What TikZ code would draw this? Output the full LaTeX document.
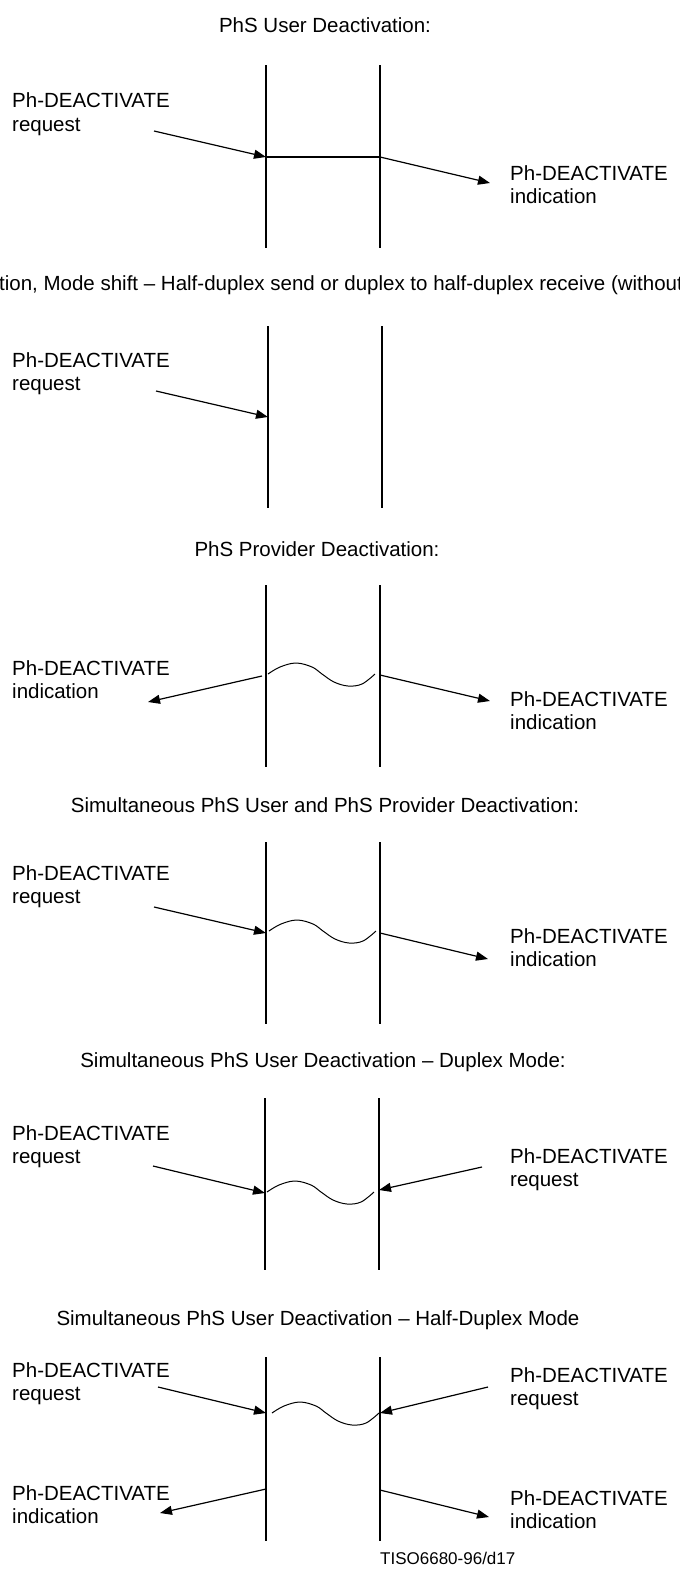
\documentclass[tikz,border=0pt]{standalone}
\usepackage{fontspec}
\newfontfamily\arialf{Liberation Sans}
\newcommand\lbfont{\arialf\fontsize{20.5}{23}\selectfont}
\newcommand\ftfont{\arialf\fontsize{17}{19}\selectfont}
\usetikzlibrary{arrows.meta}
\tikzset{
  lbl/.style={font=\lbfont, inner sep=0pt, anchor=base west},
  ttl/.style={font=\lbfont, inner sep=0pt, anchor=base},
  life/.style={line width=2pt},
  msg/.style={line width=1.2pt, -{Triangle[length=12pt,width=9pt]}},
  wave/.style={line width=1pt},
  wavepic/.pic={\draw[wave] plot[smooth,tension=0.6] coordinates {(0,0) (12,-7) (28,-11) (44,-7) (54,0) (66,8) (80,12) (94,10) (107,0)};}
}
\begin{document}
\begin{tikzpicture}[x=1pt,y=-1pt]
\useasboundingbox (0,0) rectangle (680,1569);
\fill[white] (0,0) rectangle (680,1569);
\clip (0,0) rectangle (680,1569);

% ---------- Section 1 ----------
\node[ttl] (t1) at (325,32) {PhS User Deactivation:};
\coordinate (L1t) at (266,65); \coordinate (L1b) at (266,248);
\coordinate (R1t) at (380,65); \coordinate (R1b) at (380,248);
\coordinate (L1m) at (266,157); \coordinate (R1m) at (380,157);
\coordinate (a1s) at (154,131); \coordinate (a1e) at (490,183);
\draw[life] (L1t) -- (L1b);
\draw[life] (R1t) -- (R1b);
\draw[msg] (a1s) -- (L1m);
\draw[life] (L1m) -- (R1m);
\draw[msg] (R1m) -- (a1e);
\node[lbl] (l1a) at (12,107) {Ph-DEACTIVATE};
\node[lbl] (l1b) at (12,131) {request};
\node[lbl] (r1a) at (510,180) {Ph-DEACTIVATE};
\node[lbl] (r1b) at (510,203) {indication};

% ---------- Section 2 ----------
\node[lbl] (t2) at (-1,290) {tion, Mode shift – Half-duplex send or duplex to half-duplex receive (without};
\coordinate (L2t) at (268,326); \coordinate (L2b) at (268,508);
\coordinate (R2t) at (382,326); \coordinate (R2b) at (382,508);
\coordinate (L2m) at (268,417); \coordinate (a2s) at (156,391);
\draw[life] (L2t) -- (L2b);
\draw[life] (R2t) -- (R2b);
\draw[msg] (a2s) -- (L2m);
\node[lbl] (l2a) at (12,367) {Ph-DEACTIVATE};
\node[lbl] (l2b) at (12,390) {request};

% ---------- Section 3 ----------
\node[ttl] (t3) at (317,556) {PhS Provider Deactivation:};
\coordinate (L3t) at (266,585); \coordinate (L3b) at (266,767);
\coordinate (R3t) at (380,585); \coordinate (R3b) at (380,767);
\coordinate (a3s) at (262,676); \coordinate (a3e) at (148,702);
\coordinate (R3m) at (380,675); \coordinate (b3e) at (490,701);
\draw[life] (L3t) -- (L3b);
\draw[life] (R3t) -- (R3b);
\draw[msg] (a3s) -- (a3e);
\draw[msg] (R3m) -- (b3e);
\pic at (268,674) {wavepic};
\node[lbl] (l3a) at (12,675) {Ph-DEACTIVATE};
\node[lbl] (l3b) at (12,698) {indication};
\node[lbl] (r3a) at (510,706) {Ph-DEACTIVATE};
\node[lbl] (r3b) at (510,729) {indication};

% ---------- Section 4 ----------
\node[ttl] (t4) at (325,812) {Simultaneous PhS User and PhS Provider Deactivation:};
\coordinate (L4t) at (266,842); \coordinate (L4b) at (266,1024);
\coordinate (R4t) at (380,842); \coordinate (R4b) at (380,1024);
\coordinate (a4s) at (154,907); \coordinate (L4m) at (266,933);
\coordinate (R4m) at (380,933); \coordinate (b4e) at (488,959);
\draw[life] (L4t) -- (L4b);
\draw[life] (R4t) -- (R4b);
\draw[msg] (a4s) -- (L4m);
\draw[msg] (R4m) -- (b4e);
\pic at (269,931) {wavepic};
\node[lbl] (l4a) at (12,880) {Ph-DEACTIVATE};
\node[lbl] (l4b) at (12,903) {request};
\node[lbl] (r4a) at (510,943) {Ph-DEACTIVATE};
\node[lbl] (r4b) at (510,966) {indication};

% ---------- Section 5 ----------
\node[ttl] (t5) at (323,1067) {Simultaneous PhS User Deactivation – Duplex Mode:};
\coordinate (L5t) at (265,1098); \coordinate (L5b) at (265,1270);
\coordinate (R5t) at (379,1098); \coordinate (R5b) at (379,1270);
\coordinate (a5s) at (153,1166); \coordinate (L5m) at (265,1193);
\coordinate (b5s) at (482,1167); \coordinate (R5m) at (379,1190);
\draw[life] (L5t) -- (L5b);
\draw[life] (R5t) -- (R5b);
\draw[msg] (a5s) -- (L5m);
\draw[msg] (b5s) -- (R5m);
\pic at (267,1192) {wavepic};
\node[lbl] (l5a) at (12,1140) {Ph-DEACTIVATE};
\node[lbl] (l5b) at (12,1163) {request};
\node[lbl] (r5a) at (510,1163) {Ph-DEACTIVATE};
\node[lbl] (r5b) at (510,1186) {request};

% ---------- Section 6 ----------
\node[ttl] (t6) at (318,1325) {Simultaneous PhS User Deactivation – Half-Duplex Mode};
\coordinate (L6t) at (266,1357); \coordinate (L6b) at (266,1541);
\coordinate (R6t) at (380,1357); \coordinate (R6b) at (380,1541);
\coordinate (a6s) at (158,1387); \coordinate (L6m) at (266,1413);
\coordinate (b6s) at (488,1387); \coordinate (R6m) at (380,1413);
\coordinate (L6n) at (266,1489); \coordinate (c6e) at (160,1513);
\coordinate (R6n) at (380,1490); \coordinate (d6e) at (489,1517);
\draw[life] (L6t) -- (L6b);
\draw[life] (R6t) -- (R6b);
\draw[msg] (a6s) -- (L6m);
\draw[msg] (b6s) -- (R6m);
\draw[msg] (L6n) -- (c6e);
\draw[msg] (R6n) -- (d6e);
\pic at (272,1413) {wavepic};
\node[lbl] (l6a) at (12,1377) {Ph-DEACTIVATE};
\node[lbl] (l6b) at (12,1400) {request};
\node[lbl] (r6a) at (510,1382) {Ph-DEACTIVATE};
\node[lbl] (r6b) at (510,1405) {request};
\node[lbl] (l6c) at (12,1500) {Ph-DEACTIVATE};
\node[lbl] (l6d) at (12,1523) {indication};
\node[lbl] (r6c) at (510,1505) {Ph-DEACTIVATE};
\node[lbl] (r6d) at (510,1528) {indication};
\node[font=\ftfont, inner sep=0pt, anchor=base west] (foot) at (380,1564) {TISO6680-96/d17};
\end{tikzpicture}
\end{document}
